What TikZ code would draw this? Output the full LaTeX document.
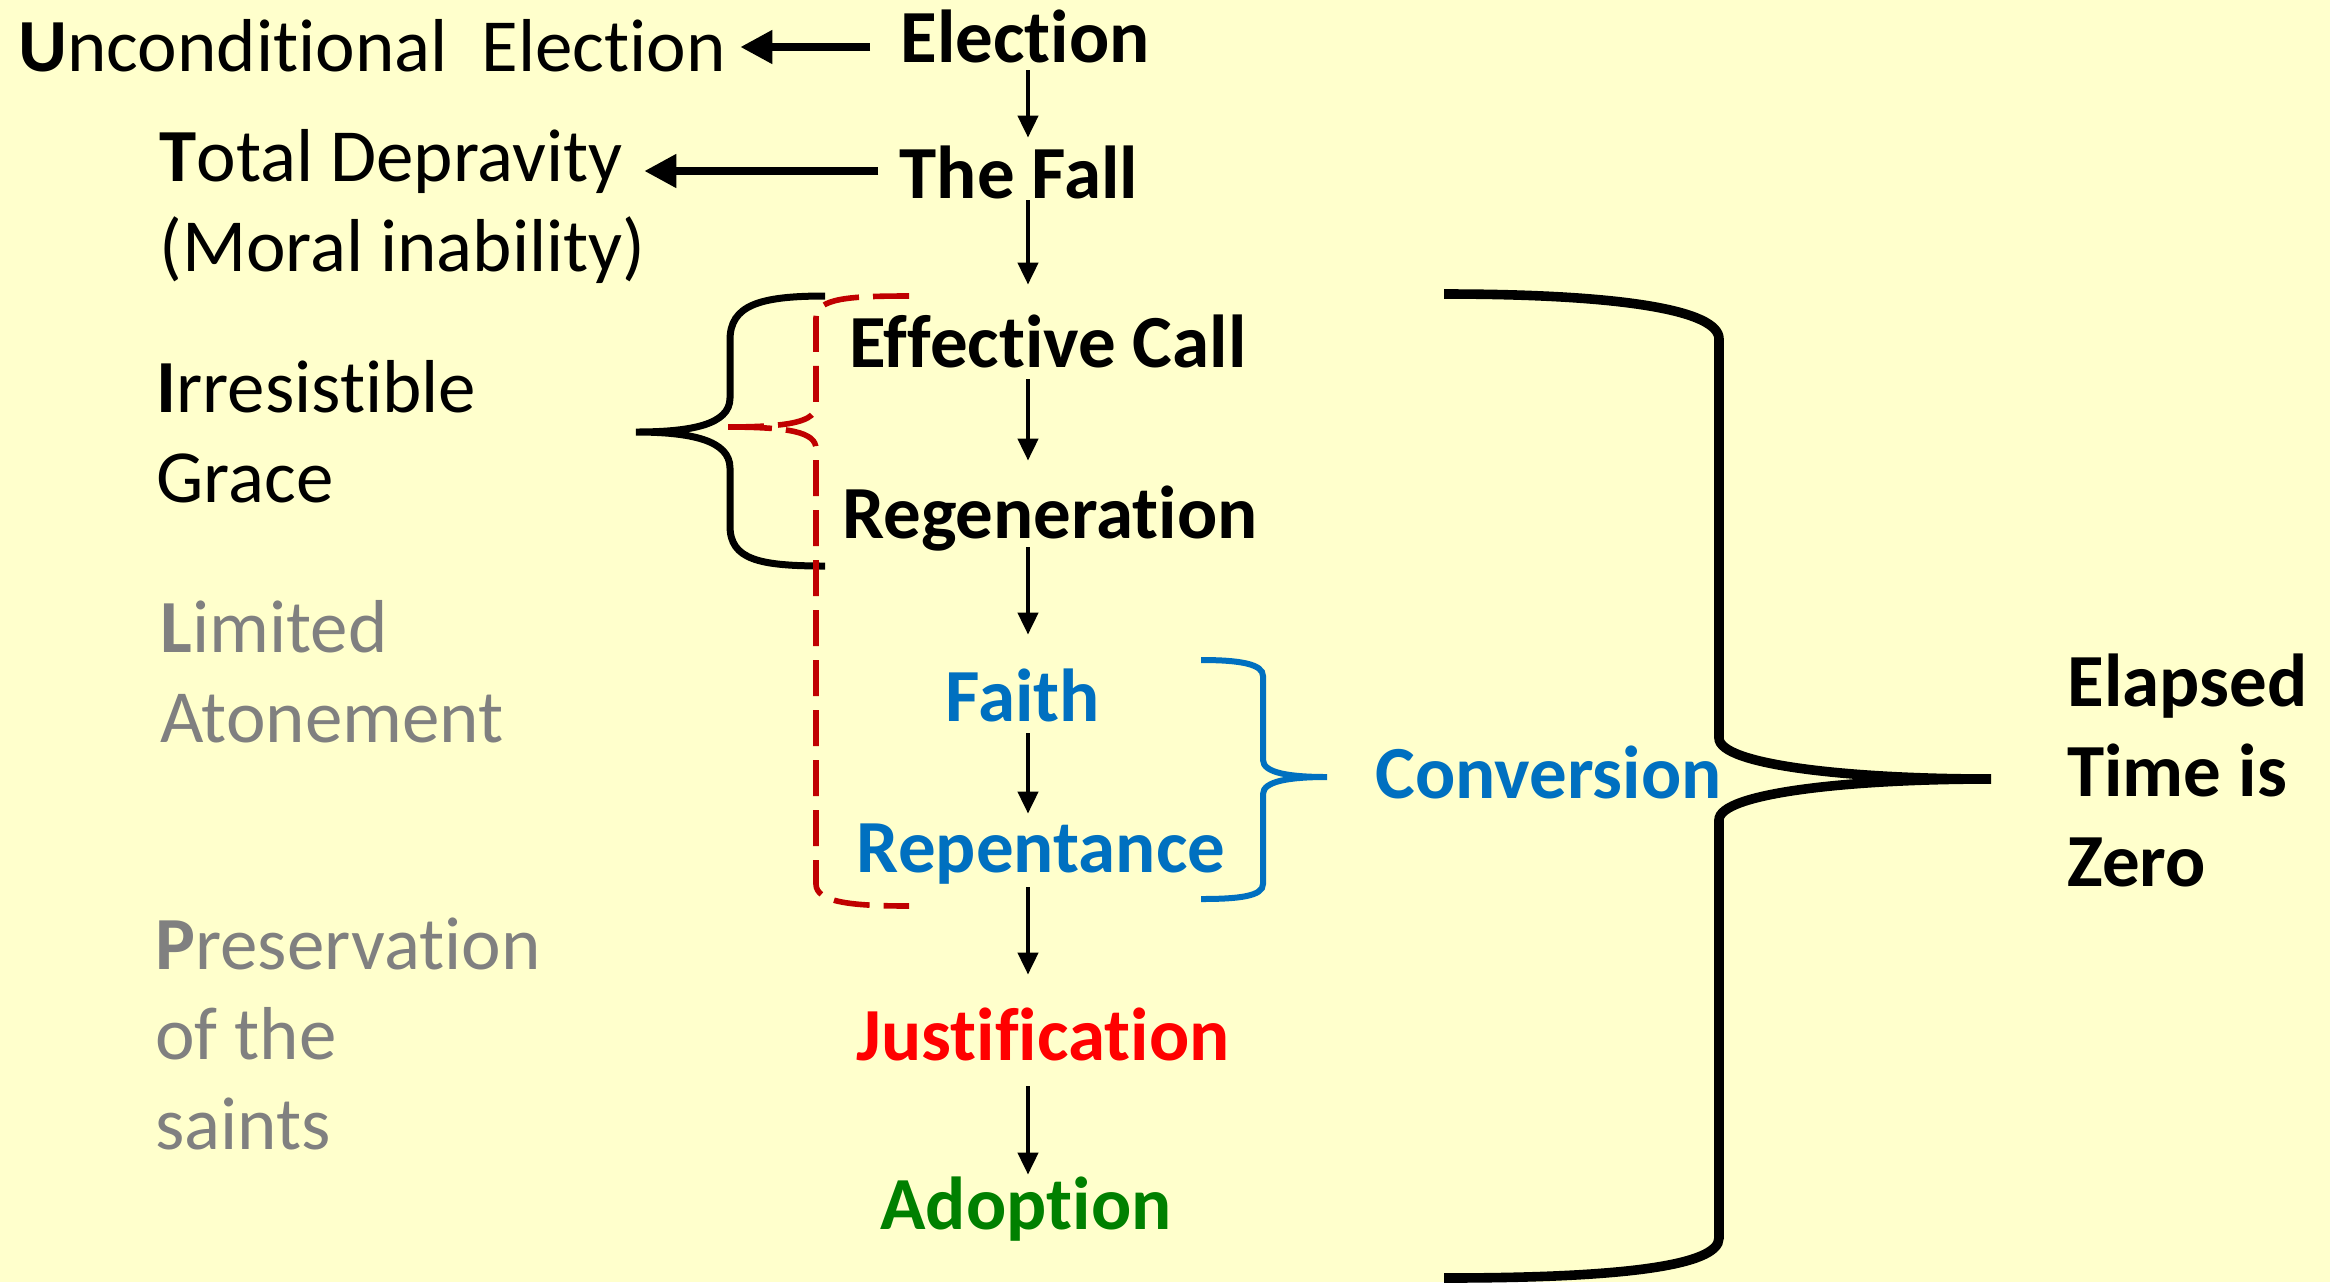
\documentclass[tikz,border=0pt]{standalone}
\usepackage{fontspec}
\setmainfont{Carlito}[RawFeature=-liga]
\usetikzlibrary{arrows.meta}

\definecolor{paper}{RGB}{255,255,204}
\definecolor{convblue}{RGB}{0,112,192}
\definecolor{callred}{RGB}{192,0,0}
\definecolor{tulipgray}{RGB}{128,128,128}
\definecolor{adoptgreen}{RGB}{0,128,0}

\tikzset{
  step label/.style={font=\bfseries\fontsize{37.5}{45}\selectfont, inner sep=0pt,
    text height=27pt, text depth=6pt, anchor=base},
  tulip/.style={font=\fontsize{37.5}{45}\selectfont, inner sep=0pt, align=left, anchor=base west},
  down arrow/.style={line width=2.1pt, -{Triangle[length=11pt,width=10pt]}},
  side arrow/.style={line width=3.8pt, -{Triangle[length=16pt,width=16pt]}},
}

\begin{document}
\begin{tikzpicture}[x=0.5pt,y=0.5pt,yscale=-1,xscale=1]
  \fill[paper] (0,0) rectangle (2330,1282);
  \useasboundingbox (0,0) rectangle (2330,1282);

  % the order of salvation
  \coordinate (spine) at (1028,0);
  \node[step label] (elect)  at (1025,62)   {Election};
  \node[step label] (fall)   at (1019,198)  {The Fall};
  \node[step label] (call)   at (1048,367)  {Effective Call};
  \node[step label] (regen)  at (1050,538)  {Regeneration};
  \node[step label, text=convblue] (faith)  at (1023,721)  {Faith};
  \node[step label, text=convblue] (repent) at (1041,872)  {Repentance};
  \node[step label, text=red] (justif) at (1043,1060) {Justification};
  \node[step label, text=adoptgreen] (adopt) at (1026,1229) {Adoption};

  \draw[down arrow, shorten <=-2pt, shorten >=3pt] (elect.south -| spine) -- (fall.north -| spine);
  \draw[down arrow, shorten <=-5pt, shorten >=14pt] (fall.south -| spine) -- (call.north -| spine);
  \draw[down arrow, shorten >=11.5pt] (call.south -| spine) -- (regen.north -| spine);
  \draw[down arrow, shorten <=-1.5pt, shorten >=16pt] (regen.south -| spine) -- (faith.north -| spine);
  \draw[down arrow, shorten >=2pt] (faith.south -| spine) -- (repent.north -| spine);
  \draw[down arrow, shorten <=1.5pt, shorten >=15.5pt] (repent.south -| spine) -- (justif.north -| spine);
  \draw[down arrow, shorten <=7pt] (justif.south -| spine) -- (adopt.north -| spine);

  % TULIP
  \node[tulip] (uncond)   at (18,71)   {\textbf{U}nconditional\ \ Election};
  \node[tulip] (total)    at (159,271) {\textbf{T}otal Depravity\\(Moral inability)};
  \node[tulip] (irres)    at (156,502) {\textbf{I}rresistible\\Grace};
  \node[tulip, text=tulipgray] (limited)  at (160,742) {\textbf{L}imited\\Atonement};
  \node[tulip, text=tulipgray] (preserve) at (155,1149) {\textbf{P}reservation\\of the\\saints};

  \coordinate (row1) at (0,47);
  \coordinate (row2) at (0,171);
  \draw[side arrow, shorten <=15pt, shorten >=7pt] (elect.west |- row1) -- (uncond.east |- row1);
  \draw[side arrow, shorten <=10.5pt, shorten >=-1pt] (fall.west |- row2) -- (total.east |- row2);

  % braces
  \draw[line width=3.5pt] (825,296) .. controls (760,296) and (730,305) .. (730,340) -- (730,398)
    .. controls (730,425) and (690,432) .. (636,432)
    .. controls (690,432) and (730,440) .. (730,468) -- (730,526)
    .. controls (730,560) and (760,566) .. (825,566);
  \draw[callred, line width=2.8pt, dash pattern=on 18pt off 7pt]
    (909,296) .. controls (850,296) and (816,298) .. (816,318) -- (816,405)
    .. controls (816,422) and (790,427) .. (725,427)
    .. controls (790,427) and (816,432) .. (816,449) -- (816,884)
    .. controls (816,902) and (850,906) .. (909,906);
  \draw[convblue, line width=3pt] (1201,660) .. controls (1240,660) and (1263,664) .. (1263,676) -- (1263,760)
    .. controls (1263,773) and (1290,777) .. (1327,777)
    .. controls (1290,777) and (1263,781) .. (1263,794) -- (1263,884)
    .. controls (1263,896) and (1240,899) .. (1201,899);
  \node[step label, text=convblue, anchor=base west] (conv) at (1375,798) {Conversion};

  \draw[line width=4.8pt] (1444,294) .. controls (1620,294) and (1719,310) .. (1719,339) -- (1719,738)
    .. controls (1719,765) and (1850,779) .. (1991,779)
    .. controls (1850,779) and (1719,793) .. (1719,820) -- (1719,1238)
    .. controls (1719,1266) and (1620,1278) .. (1444,1278);
  \node[tulip, font=\bfseries\fontsize{37.5}{45}\selectfont] (elapsed) at (2067,886) {Elapsed\\Time is\\Zero};
\end{tikzpicture}
\end{document}
